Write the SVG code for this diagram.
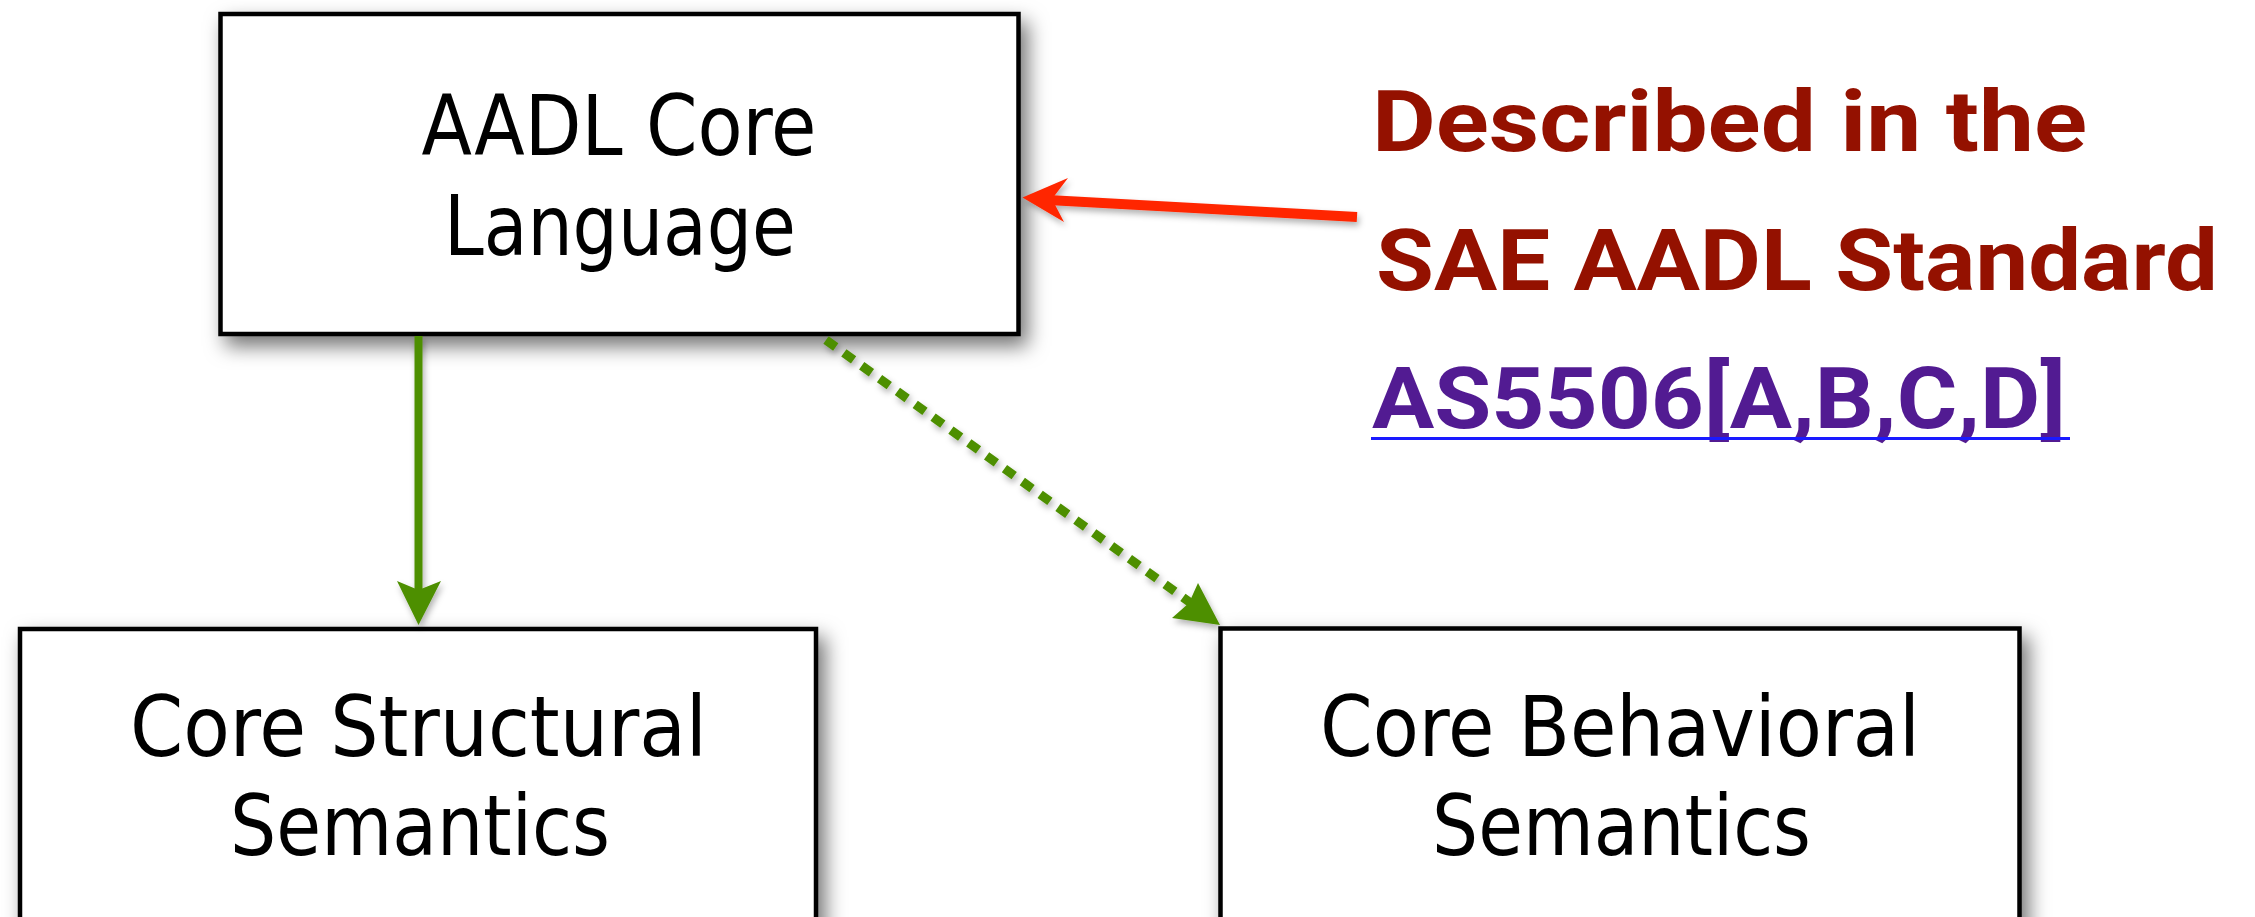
<svg xmlns="http://www.w3.org/2000/svg" width="2255" height="917" viewBox="0 0 2255 917">
  <style>
    .box { fill: #ffffff; stroke: #000000; stroke-width: 4.5; }
    .lbl { font-family: "DejaVu Sans Condensed", "DejaVu Sans", sans-serif; font-stretch: condensed; font-size: 84px; fill: #000000; text-anchor: middle; }
    .note { font-family: Roboto, "Liberation Sans", sans-serif; font-weight: bold; font-size: 86px; }
    .red { fill: #941100; }
    .link { fill: #521b92; }
    .solid { stroke: #4e8f00; stroke-width: 8; fill: none; }
    .dotted { stroke: #4e8f00; stroke-width: 9; fill: none; stroke-dasharray: 12 10; }
    .ref { stroke: #ff2600; stroke-width: 10; fill: none; }
  </style>
  <defs>
    <filter id="shadow" x="-10%" y="-10%" width="130%" height="140%">
      <feDropShadow dx="7" dy="10" stdDeviation="10" flood-color="#000000" flood-opacity="0.55"/>
    </filter>
    <filter id="lineShadow" x="-10%" y="-50%" width="130%" height="250%">
      <feDropShadow dx="2" dy="4" stdDeviation="3" flood-color="#000000" flood-opacity="0.3"/>
    </filter>
  </defs>
  <rect width="2255" height="917" fill="#ffffff"/>

  <g id="core-language">
    <rect class="box" x="220.5" y="14" width="798" height="320" filter="url(#shadow)"/>
    <text class="lbl" x="619" y="155" textLength="395" lengthAdjust="spacingAndGlyphs">AADL Core</text>
    <text class="lbl" x="620" y="255" textLength="352" lengthAdjust="spacingAndGlyphs">Language</text>
  </g>

  <g id="structural-semantics">
    <rect class="box" x="20" y="629" width="796" height="340" filter="url(#shadow)"/>
    <text class="lbl" x="418.5" y="756" textLength="577" lengthAdjust="spacingAndGlyphs">Core Structural</text>
    <text class="lbl" x="420" y="855" textLength="380" lengthAdjust="spacingAndGlyphs">Semantics</text>
  </g>

  <g id="behavioral-semantics">
    <rect class="box" x="1220.5" y="628.5" width="799" height="340" filter="url(#shadow)"/>
    <text class="lbl" x="1620" y="756" textLength="600" lengthAdjust="spacingAndGlyphs">Core Behavioral</text>
    <text class="lbl" x="1621.5" y="855" textLength="379" lengthAdjust="spacingAndGlyphs">Semantics</text>
  </g>

  <g id="standard-note">
    <text class="note red" x="1372" y="151" textLength="715" lengthAdjust="spacingAndGlyphs">Described in the</text>
    <text class="note red" x="1376" y="290" textLength="842" lengthAdjust="spacingAndGlyphs">SAE AADL Standard</text>
    <text class="note link" x="1372" y="428" textLength="694" lengthAdjust="spacingAndGlyphs">AS5506[A,B,C,D]</text>
    <line x1="1371" y1="438.5" x2="2070" y2="438.5" stroke="#1a1aff" stroke-width="3"/>
  </g>

  <g id="connectors" filter="url(#lineShadow)">
    <!-- structural: solid green down -->
    <line class="solid" x1="418.5" y1="336" x2="418.5" y2="592"/>
    <path d="M418.5 625 L397 581 L418.5 590 L441 581 Z" fill="#4e8f00"/>
    <!-- behavioral: dotted green diagonal -->
    <line class="dotted" x1="826" y1="340" x2="1195" y2="606"/>
    <path d="M1220 625 L1172 618 L1189 603 L1198 583 Z" fill="#4e8f00"/>
    <!-- reference to the standard: red -->
    <line class="ref" x1="1048" y1="200" x2="1357" y2="217"/>
    <path d="M1022.5 197.5 L1068 178 L1052 199 L1064 222 Z" fill="#ff2600"/>
  </g>
</svg>
